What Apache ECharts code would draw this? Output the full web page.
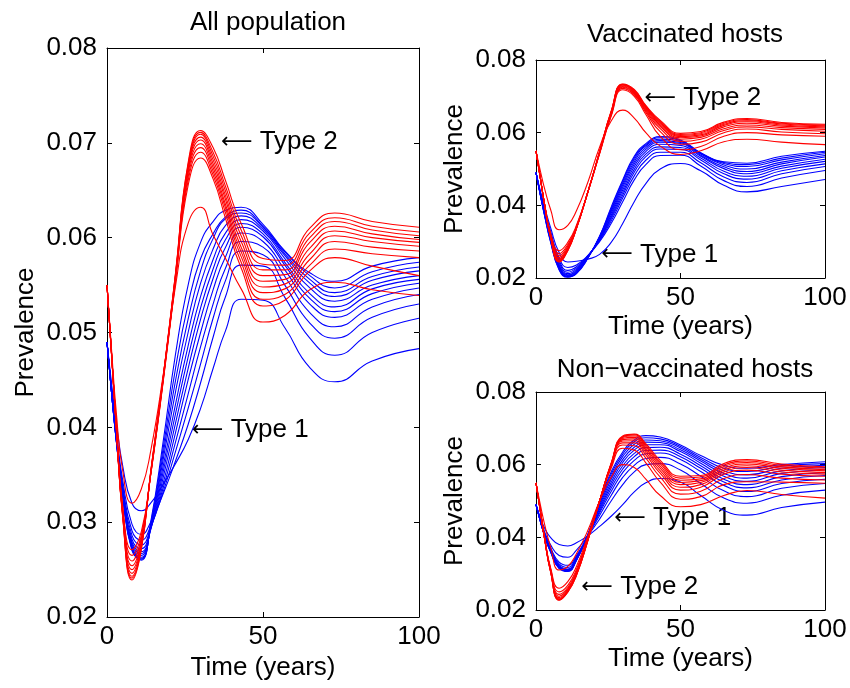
<!DOCTYPE html>
<html><head><meta charset="utf-8">
<script src="https://cdn.jsdelivr.net/npm/echarts/dist/echarts.min.js"></script>
<style>html,body{margin:0;padding:0;background:#fff}#c{width:850px;height:688px}</style>
</head><body><div id="c"></div>
<script>
// time grid (years) at which values were read
const T = [0, 1.5, 3, 5, 8, 11, 14, 18, 22, 26, 30, 34, 38, 43, 50, 57, 65, 73, 85, 100];

// ---- All population ----
const allPopType1 = [
 [.0490,.0445,.0405,.0360,.0320,.0312,.0320,.0340,.0362,.0387,.0420,.0462,.0502,.0535,.0534,.0505,.0463,.0448,.0470,.0483],
 [.0490,.0440,.0395,.0345,.0298,.0287,.0300,.0330,.0365,.0403,.0447,.0495,.0538,.0571,.0570,.0537,.0494,.0476,.0500,.0515],
 [.0490,.0438,.0392,.0340,.0291,.0281,.0296,.0332,.0375,.0420,.0467,.0515,.0555,.0586,.0582,.0550,.0510,.0494,.0516,.0530],
 [.0490,.0437,.0390,.0337,.0286,.0276,.0294,.0336,.0385,.0435,.0485,.0530,.0568,.0596,.0590,.0559,.0521,.0506,.0527,.0540],
 [.0490,.0436,.0389,.0335,.0282,.0272,.0293,.0341,.0395,.0450,.0500,.0545,.0580,.0605,.0596,.0566,.0530,.0516,.0535,.0547],
 [.0490,.0436,.0388,.0333,.0279,.0269,.0292,.0347,.0405,.0462,.0514,.0557,.0590,.0611,.0601,.0571,.0536,.0522,.0541,.0552],
 [.0490,.0435,.0387,.0332,.0277,.0267,.0293,.0353,.0415,.0474,.0526,.0567,.0598,.0615,.0604,.0574,.0541,.0527,.0546,.0556],
 [.0490,.0435,.0386,.0331,.0275,.0265,.0294,.0359,.0425,.0486,.0538,.0577,.0605,.0619,.0607,.0578,.0547,.0533,.0550,.0560],
 [.0490,.0435,.0386,.0330,.0273,.0263,.0295,.0366,.0438,.0500,.0552,.0588,.0613,.0623,.0609,.0581,.0552,.0538,.0555,.0565],
 [.0490,.0435,.0385,.0329,.0272,.0262,.0296,.0372,.0450,.0514,.0565,.0599,.0620,.0626,.0611,.0583,.0556,.0542,.0559,.0569],
 [.0490,.0435,.0385,.0329,.0271,.0261,.0298,.0378,.0463,.0530,.0578,.0604,.0622,.0629,.0612,.0585,.0560,.0547,.0564,.0574],
 [.0490,.0435,.0385,.0328,.0270,.0260,.0300,.0385,.0478,.0550,.0595,.0617,.0629,.0632,.0614,.0586,.0563,.0554,.0570,.0579]
];
const allPopType2 = [
 [.0550,.0480,.0415,.0355,.0320,.0335,.0375,.0455,.0550,.0615,.0632,.0603,.0578,.0546,.0511,.0518,.0545,.0553,.0545,.0539],
 [.0550,.0476,.0402,.0318,.0271,.0290,.0350,.0448,.0555,.0655,.0684,.0662,.0620,.0568,.0528,.0534,.0565,.0579,.0570,.0560],
 [.0550,.0476,.0401,.0316,.0265,.0286,.0350,.0449,.0557,.0660,.0690,.0666,.0626,.0574,.0535,.0540,.0571,.0588,.0583,.0579],
 [.0550,.0476,.0401,.0314,.0259,.0283,.0350,.0450,.0558,.0664,.0695,.0670,.0631,.0580,.0542,.0546,.0577,.0596,.0590,.0586],
 [.0550,.0475,.0400,.0312,.0254,.0280,.0351,.0451,.0559,.0668,.0699,.0674,.0635,.0585,.0548,.0551,.0583,.0602,.0596,.0591],
 [.0550,.0475,.0400,.0310,.0250,.0278,.0351,.0451,.0560,.0671,.0703,.0678,.0640,.0590,.0554,.0556,.0589,.0607,.0600,.0595],
 [.0550,.0475,.0399,.0309,.0246,.0276,.0352,.0452,.0561,.0673,.0706,.0682,.0644,.0596,.0560,.0561,.0595,.0612,.0604,.0598],
 [.0550,.0475,.0399,.0308,.0243,.0274,.0352,.0452,.0562,.0675,.0709,.0686,.0649,.0602,.0566,.0566,.0600,.0617,.0608,.0602],
 [.0550,.0475,.0398,.0307,.0241,.0272,.0353,.0453,.0563,.0677,.0711,.0690,.0654,.0608,.0572,.0571,.0605,.0621,.0612,.0606],
 [.0550,.0475,.0398,.0306,.0239,.0271,.0353,.0453,.0564,.0679,.0713,.0695,.0660,.0615,.0578,.0576,.0610,.0626,.0617,.0611]
];

// ---- Vaccinated hosts ----
const vaccType1 = [
 [.0490,.0440,.0395,.0340,.0270,.0244,.0246,.0252,.0265,.0298,.0350,.0410,.0460,.0500,.0515,.0495,.0455,.0437,.0452,.0471],
 [.0490,.0436,.0388,.0330,.0255,.0229,.0236,.0262,.0300,.0350,.0410,.0470,.0512,.0537,.0538,.0508,.0468,.0452,.0475,.0496],
 [.0490,.0434,.0385,.0325,.0248,.0221,.0231,.0262,.0303,.0357,.0420,.0481,.0524,.0546,.0546,.0517,.0478,.0463,.0487,.0507],
 [.0490,.0433,.0382,.0320,.0243,.0216,.0227,.0261,.0305,.0363,.0428,.0491,.0534,.0555,.0554,.0525,.0487,.0472,.0495,.0514],
 [.0490,.0432,.0380,.0316,.0238,.0212,.0224,.0260,.0307,.0368,.0435,.0499,.0541,.0561,.0559,.0530,.0494,.0480,.0502,.0521],
 [.0490,.0431,.0378,.0312,.0234,.0209,.0221,.0259,.0309,.0373,.0442,.0507,.0548,.0568,.0565,.0535,.0501,.0487,.0508,.0527],
 [.0490,.0430,.0376,.0309,.0231,.0207,.0218,.0258,.0310,.0378,.0449,.0514,.0554,.0574,.0570,.0538,.0506,.0493,.0514,.0533],
 [.0490,.0430,.0374,.0306,.0228,.0205,.0216,.0257,.0312,.0383,.0455,.0520,.0559,.0578,.0573,.0541,.0511,.0500,.0519,.0537],
 [.0490,.0429,.0373,.0304,.0226,.0204,.0214,.0256,.0313,.0387,.0461,.0526,.0564,.0582,.0576,.0543,.0515,.0507,.0525,.0542],
 [.0490,.0429,.0371,.0302,.0224,.0203,.0213,.0256,.0314,.0391,.0466,.0531,.0567,.0586,.0578,.0544,.0518,.0512,.0530,.0546],
 [.0490,.0428,.0370,.0300,.0222,.0202,.0212,.0255,.0315,.0395,.0470,.0535,.0570,.0589,.0580,.0545,.0520,.0516,.0535,.0549]
];
const vaccType2 = [
 [.0550,.0495,.0445,.0390,.0333,.0345,.0385,.0465,.0560,.0632,.0662,.0640,.0600,.0563,.0540,.0550,.0575,.0582,.0574,.0567],
 [.0550,.0476,.0403,.0325,.0275,.0298,.0345,.0438,.0542,.0645,.0718,.0700,.0650,.0590,.0553,.0562,.0590,.0600,.0594,.0590],
 [.0550,.0476,.0402,.0322,.0267,.0292,.0342,.0438,.0543,.0648,.0722,.0704,.0656,.0603,.0568,.0574,.0600,.0610,.0602,.0597],
 [.0550,.0476,.0402,.0320,.0261,.0288,.0340,.0438,.0544,.0650,.0725,.0707,.0660,.0611,.0576,.0582,.0606,.0616,.0609,.0604],
 [.0550,.0475,.0401,.0318,.0256,.0284,.0339,.0438,.0545,.0652,.0727,.0709,.0663,.0617,.0582,.0587,.0611,.0621,.0614,.0609],
 [.0550,.0475,.0401,.0317,.0252,.0281,.0338,.0438,.0546,.0654,.0729,.0711,.0666,.0621,.0586,.0591,.0616,.0626,.0618,.0613],
 [.0550,.0475,.0400,.0316,.0249,.0279,.0337,.0438,.0547,.0656,.0731,.0713,.0669,.0625,.0589,.0594,.0620,.0630,.0621,.0616],
 [.0550,.0475,.0400,.0315,.0247,.0277,.0337,.0438,.0547,.0657,.0732,.0715,.0671,.0628,.0592,.0597,.0623,.0633,.0624,.0619],
 [.0550,.0475,.0400,.0314,.0245,.0276,.0336,.0438,.0548,.0658,.0733,.0717,.0673,.0631,.0595,.0600,.0626,.0636,.0626,.0621],
 [.0550,.0475,.0400,.0313,.0244,.0275,.0336,.0438,.0548,.0659,.0734,.0719,.0675,.0634,.0598,.0603,.0629,.0639,.0628,.0623]
];

// ---- Non-vaccinated hosts ----
const nonVaccType1 = [
 [.0490,.0455,.0425,.0400,.0380,.0376,.0385,.0405,.0430,.0458,.0490,.0525,.0550,.0562,.0552,.0515,.0474,.0461,.0482,.0497],
 [.0490,.0450,.0415,.0380,.0350,.0345,.0365,.0405,.0450,.0500,.0545,.0580,.0600,.0603,.0585,.0548,.0508,.0494,.0516,.0530],
 [.0490,.0448,.0410,.0372,.0332,.0323,.0350,.0405,.0460,.0515,.0565,.0598,.0617,.0620,.0602,.0568,.0528,.0512,.0535,.0548],
 [.0490,.0447,.0408,.0369,.0327,.0317,.0347,.0406,.0467,.0526,.0578,.0612,.0630,.0632,.0614,.0581,.0543,.0526,.0548,.0560],
 [.0490,.0446,.0407,.0367,.0323,.0313,.0344,.0406,.0472,.0535,.0588,.0622,.0639,.0640,.0622,.0590,.0552,.0536,.0558,.0570],
 [.0490,.0446,.0406,.0365,.0320,.0311,.0342,.0406,.0477,.0543,.0597,.0631,.0647,.0648,.0629,.0597,.0560,.0545,.0567,.0578],
 [.0490,.0445,.0405,.0364,.0318,.0310,.0340,.0407,.0482,.0551,.0606,.0640,.0655,.0655,.0636,.0604,.0568,.0554,.0576,.0586],
 [.0490,.0445,.0404,.0363,.0317,.0309,.0339,.0407,.0487,.0559,.0614,.0648,.0662,.0661,.0641,.0610,.0576,.0563,.0583,.0592],
 [.0490,.0445,.0404,.0362,.0316,.0308,.0338,.0408,.0492,.0567,.0622,.0656,.0668,.0666,.0646,.0615,.0583,.0572,.0590,.0598],
 [.0490,.0444,.0403,.0361,.0315,.0307,.0337,.0408,.0496,.0574,.0629,.0663,.0674,.0671,.0650,.0620,.0590,.0581,.0596,.0603],
 [.0490,.0444,.0403,.0360,.0314,.0306,.0336,.0409,.0500,.0580,.0635,.0668,.0680,.0676,.0654,.0625,.0598,.0590,.0600,.0608]
];
const nonVaccType2 = [
 [.0550,.0490,.0435,.0375,.0310,.0320,.0355,.0420,.0500,.0565,.0600,.0592,.0560,.0515,.0484,.0490,.0515,.0529,.0518,.0508],
 [.0550,.0475,.0400,.0318,.0260,.0278,.0320,.0405,.0500,.0590,.0645,.0640,.0605,.0552,.0505,.0512,.0545,.0553,.0552,.0549],
 [.0550,.0474,.0398,.0315,.0250,.0268,.0312,.0400,.0500,.0595,.0654,.0652,.0618,.0566,.0519,.0527,.0562,.0573,.0563,.0558],
 [.0550,.0473,.0397,.0313,.0243,.0262,.0307,.0398,.0500,.0597,.0660,.0660,.0627,.0576,.0530,.0538,.0574,.0585,.0574,.0568],
 [.0550,.0473,.0396,.0311,.0238,.0258,.0303,.0396,.0500,.0599,.0665,.0666,.0634,.0583,.0538,.0545,.0580,.0592,.0580,.0574],
 [.0550,.0472,.0395,.0310,.0234,.0255,.0300,.0395,.0500,.0600,.0669,.0671,.0640,.0590,.0545,.0551,.0585,.0597,.0585,.0578],
 [.0550,.0472,.0395,.0309,.0231,.0253,.0298,.0394,.0500,.0601,.0672,.0675,.0645,.0596,.0551,.0556,.0590,.0602,.0590,.0583],
 [.0550,.0472,.0394,.0308,.0229,.0251,.0297,.0393,.0500,.0602,.0675,.0679,.0650,.0602,.0557,.0561,.0595,.0606,.0594,.0586],
 [.0550,.0472,.0394,.0307,.0228,.0250,.0296,.0393,.0500,.0603,.0677,.0682,.0654,.0607,.0563,.0566,.0599,.0610,.0598,.0590],
 [.0550,.0472,.0394,.0307,.0227,.0249,.0295,.0392,.0500,.0604,.0679,.0684,.0658,.0612,.0568,.0570,.0603,.0614,.0602,.0594]
];

const panelTitles = ['All population', 'Vaccinated hosts', 'Non\u2212vaccinated hosts'];
const xTickStep = 50;
const yTickSteps = [0.01, 0.02, 0.02];
const xLabel = 'Time (years)';
const yLabel = 'Prevalence';
// annotation anchors: [panel, time, prevalence, label]
const annotations = [
 [0, 36.5, 0.0701, 'Type 2'],
 [0, 27.2, 0.0397, 'Type 1'],
 [1, 37.5, 0.0696, 'Type 2'],
 [1, 22.6, 0.0264, 'Type 1'],
 [2, 27.1, 0.0453, 'Type 1'],
 [2, 15.7, 0.0263, 'Type 2']
];

const FONT = '"Liberation Sans", Arial, Helvetica, sans-serif';
const FS = 26;
const grids = [
 {left:107, top:48, width:312, height:569},
 {left:536, top:60, width:289, height:218},
 {left:536, top:392, width:289, height:218}
];
const titlePos = [[263, 5], [680, 17], [680, 352]];
const panelsType1 = [allPopType1, vaccType1, nonVaccType1];
const panelsType2 = [allPopType2, vaccType2, nonVaccType2];

const txt = {color:'#000', fontSize:FS, fontFamily:FONT};
const xAxes = [], yAxes = [], series = [];
grids.forEach((g, i) => {
  g.show = false; g.containLabel = false; g.outerBoundsMode = 'none';
  [false, true].forEach(top => {
    xAxes.push({type:'value', gridIndex:i, position: top ? 'top' : 'bottom', min:0, max:100, interval:xTickStep,
      axisLine:{show:true, onZero:false, lineStyle:{color:'#000', width:1}},
      axisTick:{show:true, inside:true, length:5, lineStyle:{color:'#000', width:1}},
      axisLabel:{show:!top, margin:7, ...txt},
      splitLine:{show:false},
      name: top ? '' : xLabel, nameLocation:'middle', nameGap:36, nameTextStyle:txt});
    yAxes.push({type:'value', gridIndex:i, position: top ? 'right' : 'left', min:0.02, max:0.08, interval:yTickSteps[i],
      axisLine:{show:true, onZero:false, lineStyle:{color:'#000', width:1}},
      axisTick:{show:true, inside:true, length:5, lineStyle:{color:'#000', width:1}},
      axisLabel:{show:!top, margin:10, formatter: v => v.toFixed(2), ...txt},
      splitLine:{show:false},
      name: top ? '' : yLabel, nameLocation:'middle', nameGap:68, nameRotate:90, nameTextStyle:txt});
  });
  const add = (arr, color) => arr.forEach(vals => series.push({
    type:'line', xAxisIndex:2*i, yAxisIndex:2*i, data: T.map((t, k) => [t, vals[k]]),
    smooth:0.5, symbol:'none', silent:true, animation:false, clip:true,
    lineStyle:{color, width:1.1}}));
  add(panelsType1[i], '#0000ff');
  add(panelsType2[i], '#ff0000');
});
annotations.forEach(a => series.push({
  type:'scatter', xAxisIndex:2*a[0], yAxisIndex:2*a[0], data:[[a[1], a[2]]], symbolSize:0,
  itemStyle:{color:'#000', opacity:1}, silent:true, animation:false,
  label:{show:true, position:'right', distance:0, formatter:'{a|\u27F5} ' + a[3], ...txt,
    rich:{a:{fontFamily:'"DejaVu Sans", sans-serif', fontSize:22, color:'#000'}}}
}));

const chart = echarts.init(document.getElementById('c'), null, {renderer:'canvas'});
chart.setOption({
  animation:false,
  backgroundColor:'#fff',
  title: panelTitles.map((t, i) => ({text:t, left:titlePos[i][0], top:titlePos[i][1], textAlign:'center',
     textStyle:{...txt, fontWeight:'normal'}})),
  grid: grids, xAxis: xAxes, yAxis: yAxes, series
});
</script></body></html>
